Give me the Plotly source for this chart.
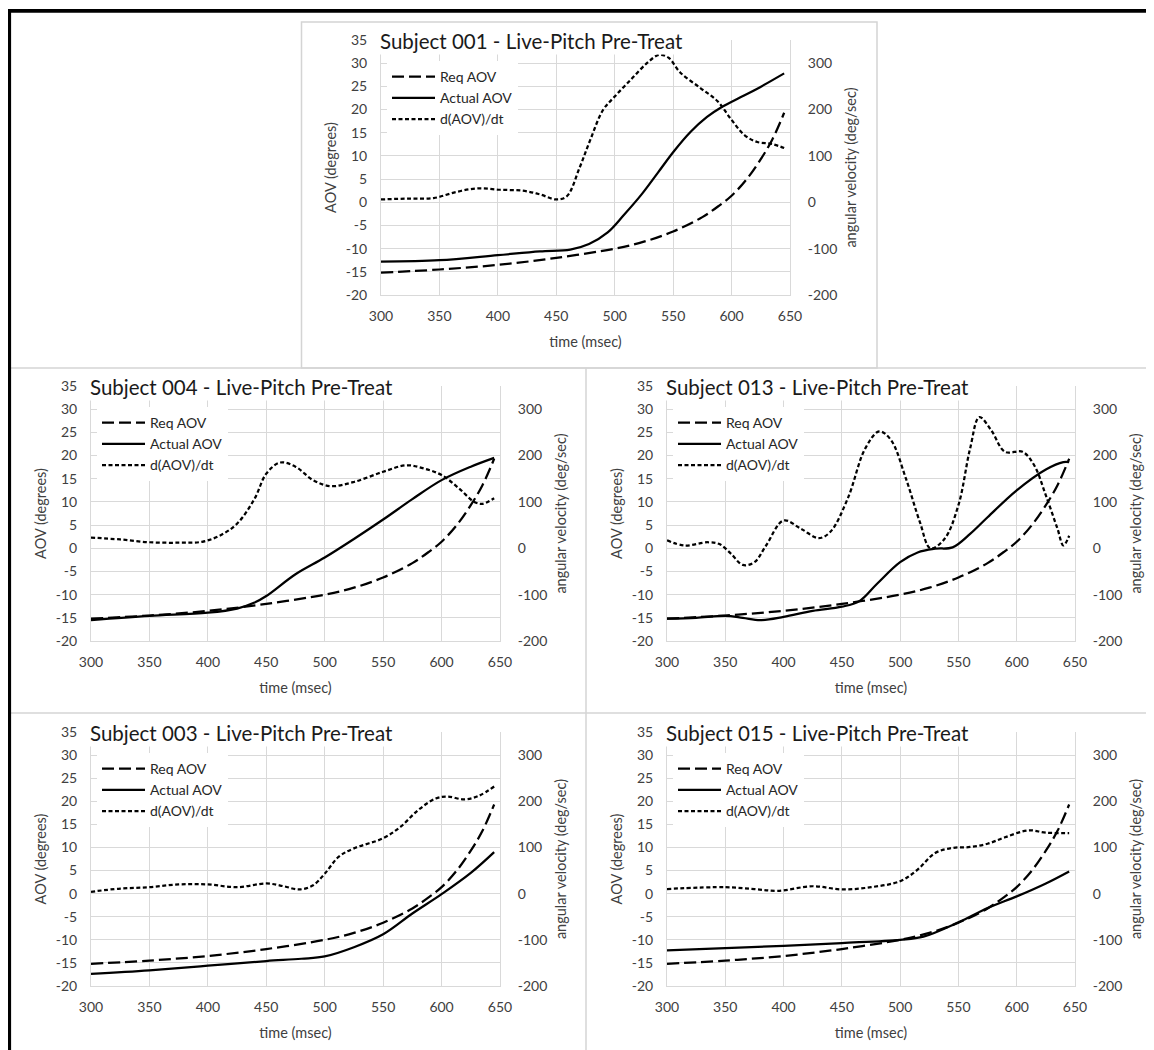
import plotly.graph_objects as go

# the page body adds an 8px margin around the figure, so the figure is
# made 8px smaller than the window on each side and placed accordingly
PAGE_W, PAGE_H = 1154, 1050
OFF = 8
W, H = PAGE_W - OFF, PAGE_H - OFF

# ---------------- data ----------------
time_ticks = [300, 350, 400, 450, 500, 550, 600, 650]
aov_ticks = [-20, -15, -10, -5, 0, 5, 10, 15, 20, 25, 30, 35]
vel_ticks = [-200, -100, 0, 100, 200, 300]

series_names = ["Req AOV", "Actual AOV", "d(AOV)/dt"]

titles = [
    "Subject 001 - Live-Pitch Pre-Treat",
    "Subject 004 - Live-Pitch Pre-Treat",
    "Subject 013 - Live-Pitch Pre-Treat",
    "Subject 003 - Live-Pitch Pre-Treat",
    "Subject 015 - Live-Pitch Pre-Treat",
]

# Required angle of view (same for all subjects), degrees
req_t = [300, 350, 400, 450, 500, 525, 550, 575, 590, 600, 613, 625, 635, 645]
req_v = [-15.2, -14.5, -13.5, -12.0, -10.0, -8.5, -6.3, -3.2, -0.6, 1.4, 5.0, 9.3, 13.6, 19.3]

# Subject 001
s001_act_t = [300, 350, 400, 436, 462, 478, 494, 508, 523, 537, 551, 565, 579, 592, 608, 622, 645]
s001_act_v = [-12.8, -12.5, -11.4, -10.6, -10.2, -9.0, -6.5, -2.7, 1.7, 6.4, 11.1, 15.2, 18.4,
              20.6, 22.7, 24.5, 27.8]
s001_vel_t = [300, 323, 345, 364, 383, 402, 421, 436, 450, 459, 470, 479, 490, 500, 514, 528,
              538, 546, 556, 573, 588, 599, 611, 622, 634, 645]
s001_vel_v = [6, 8, 9, 22, 30, 27, 25, 17, 6, 13, 75, 134, 199, 228, 265, 301,
              318, 312, 280, 247, 218, 181, 145, 130, 126, 117]

# Subject 004
s004_act_t = [300, 350, 400, 425, 440, 450, 475, 500, 525, 550, 575, 600, 625, 645]
s004_act_v = [-15.5, -14.6, -13.9, -13.0, -11.7, -10.3, -5.6, -2.0, 2.0, 6.2, 10.6, 14.7, 17.6, 19.5]
s004_vel_t = [300, 325, 350, 375, 395, 410, 425, 440, 450, 462, 475, 490, 505, 525, 550, 570,
              585, 600, 615, 628, 635, 645]
s004_vel_v = [23, 19, 13, 12, 14, 27, 53, 107, 161, 185, 176, 147, 134, 143, 165, 179,
              172, 158, 129, 100, 96, 108]

# Subject 013
s013_act_t = [300, 325, 350, 365, 380, 400, 425, 450, 465, 480, 500, 515, 530, 545, 560, 575,
              600, 625, 640, 645]
s013_act_v = [-15.2, -15.0, -14.6, -15.0, -15.5, -14.8, -13.5, -12.6, -11.4, -7.7, -3.0, -0.9,
              -0.1, 0.2, 3.1, 6.7, 12.5, 17.0, 18.6, 18.6]
s013_vel_t = [300, 315, 335, 345, 355, 365, 375, 385, 400, 415, 430, 440, 455, 470, 482, 492,
              505, 517, 526, 538, 550, 560, 568, 578, 590, 605, 615, 625, 635, 640, 645]
s013_vel_v = [17, 6, 13, 9, -12, -36, -30, 6, 60, 42, 22, 35, 107, 215, 252, 234,
              150, 56, 0, 20, 93, 215, 283, 255, 208, 208, 179, 114, 42, 6, 27]

# Subject 003
s003_act_t = [300, 350, 400, 450, 480, 500, 525, 550, 575, 600, 625, 645]
s003_act_v = [-17.4, -16.6, -15.6, -14.6, -14.1, -13.6, -11.6, -8.8, -4.3, -0.1, 4.5, 9.0]
s003_vel_t = [300, 325, 350, 375, 400, 425, 450, 465, 478, 490, 500, 512, 525, 550, 565, 580,
              595, 605, 620, 632, 645]
s003_vel_v = [4, 11, 14, 20, 20, 14, 22, 16, 9, 18, 43, 80, 98, 120, 145, 181,
              206, 210, 204, 212, 232]

# Subject 015
s015_act_t = [300, 350, 400, 450, 500, 520, 550, 575, 600, 625, 645]
s015_act_v = [-12.3, -11.8, -11.3, -10.7, -10.0, -9.3, -6.2, -3.1, -0.6, 2.2, 4.8]
s015_vel_t = [300, 350, 375, 395, 425, 450, 475, 500, 515, 530, 545, 560, 575, 590, 610, 625, 645]
s015_vel_v = [10, 14, 10, 6, 16, 9, 14, 27, 52, 88, 99, 101, 108, 122, 137, 132, 131]

subjects = [
    (s001_act_t, s001_act_v, s001_vel_t, s001_vel_v),
    (s004_act_t, s004_act_v, s004_vel_t, s004_vel_v),
    (s013_act_t, s013_act_v, s013_vel_t, s013_vel_v),
    (s003_act_t, s003_act_v, s003_vel_t, s003_vel_v),
    (s015_act_t, s015_act_v, s015_vel_t, s015_vel_v),
]

# ---------------- layout geometry (page pixels) ----------------
# plot area: left, right, top, bottom
boxes = [
    (381, 790, 40, 295),
    (91, 500, 386, 641),
    (667, 1075, 386, 641),
    (91, 500, 732, 986),
    (667, 1075, 732, 986),
]

FONT = "Lato"
TICK_COL = "#404040"
GRID = "#d9d9d9"

def px(x):
    return (x - OFF) / W

def py(y):
    return 1 - (y - OFF) / H

fig = go.Figure()
layout = dict(
    template="none",
    width=W, height=H, autosize=False,
    margin=dict(l=0, r=0, t=0, b=0, pad=0, autoexpand=False),
    paper_bgcolor="white", plot_bgcolor="white",
    font=dict(family=FONT, color=TICK_COL, size=14),
    showlegend=True,
)
annotations = []

styles = [
    dict(dash="12px,5px"),
    dict(dash="solid"),
    dict(dash="4px,2.5px"),
]

for i, (box, subj, title) in enumerate(zip(boxes, subjects, titles)):
    n = i + 1
    xl, xr, yt, yb = box
    xa = "xaxis" if n == 1 else f"xaxis{n}"
    xref = "x" if n == 1 else f"x{n}"
    yl_n = 2 * n - 1
    yr_n = 2 * n
    yla = "yaxis" if yl_n == 1 else f"yaxis{yl_n}"
    ylref = "y" if yl_n == 1 else f"y{yl_n}"
    yra = f"yaxis{yr_n}"
    yrref = f"y{yr_n}"
    leg = "legend" if n == 1 else f"legend{n}"

    act_t, act_v, vel_t, vel_v = subj

    data_sets = [
        (req_t, req_v, ylref),
        (act_t, act_v, ylref),
        (vel_t, vel_v, yrref),
    ]
    for (tx, vy, yref), name, st in zip(data_sets, series_names, styles):
        fig.add_trace(go.Scatter(
            x=tx, y=vy, name=name, mode="lines",
            line=dict(color="black", width=2.25, dash=st["dash"], shape="spline", smoothing=1.0),
            xaxis=xref, yaxis=yref, legend=leg, hoverinfo="skip",
        ))

    layout[xa] = dict(
        domain=[px(xl), px(xr)], anchor=ylref, automargin=False,
        range=[300, 650], tickvals=time_ticks, ticktext=[str(v) for v in time_ticks],
        showgrid=True, gridcolor=GRID, gridwidth=1,
        showline=True, linecolor=GRID, linewidth=1, mirror=False,
        zeroline=False, ticks="", ticklabelstandoff=8,
        tickfont=dict(size=14, color=TICK_COL, family=FONT),
        title=dict(text="time (msec)", font=dict(size=14.5, color=TICK_COL, family=FONT), standoff=14),
        fixedrange=True,
    )
    layout[yla] = dict(
        domain=[py(yb), py(yt)], anchor=xref, automargin=False,
        range=[-20, 35], tickvals=aov_ticks, ticktext=[str(v) for v in aov_ticks],
        showgrid=True, gridcolor=GRID, gridwidth=1,
        showline=True, linecolor=GRID, linewidth=1,
        zeroline=False, ticks="", ticklabelstandoff=10,
        tickfont=dict(size=14, color=TICK_COL, family=FONT),
        title=dict(text="AOV (degrees)", font=dict(size=14.5, color=TICK_COL, family=FONT), standoff=5),
        fixedrange=True,
    )
    layout[yra] = dict(
        overlaying=ylref, side="right", anchor=xref, automargin=False,
        range=[-200, 350], tickvals=vel_ticks, ticktext=[str(v) for v in vel_ticks],
        showgrid=False, showline=True, linecolor=GRID, linewidth=1,
        zeroline=False, ticks="", ticklabelstandoff=14,
        tickfont=dict(size=14, color=TICK_COL, family=FONT),
        title=dict(text="angular velocity (deg/sec)", font=dict(size=14.5, color=TICK_COL, family=FONT),
                   standoff=9),
        fixedrange=True,
    )
    layout[leg] = dict(
        x=px(xl + 6), y=py(yt + 21), xanchor="left", yanchor="top",
        bgcolor="white", borderwidth=0, itemwidth=43,
        font=dict(size=14, color="#262626", family=FONT),
        traceorder="normal", itemclick=False, itemdoubleclick=False,
    )
    annotations.append(dict(
        text=title, xref="paper", yref="paper",
        x=px(xl - 3), y=py(yt + 1), xanchor="left", yanchor="middle",
        showarrow=False, bgcolor="white",
        font=dict(size=20.5, color="#1a1a1a", family=FONT),
    ))

LIGHT = dict(color="#d4d4d4", width=1.5)
shapes = [
    # panel borders
    dict(type="rect", xref="paper", yref="paper", x0=px(301.5), x1=px(877), y0=py(368), y1=py(22),
         line=LIGHT),
    dict(type="line", xref="paper", yref="paper", x0=px(10), x1=1, y0=py(368), y1=py(368), line=LIGHT),
    dict(type="line", xref="paper", yref="paper", x0=px(10), x1=1, y0=py(713), y1=py(713), line=LIGHT),
    dict(type="line", xref="paper", yref="paper", x0=px(586), x1=px(586), y0=0, y1=py(368), line=LIGHT),
    # outer black frame (top and left)
    dict(type="line", xref="paper", yref="paper", x0=px(8), x1=1, y0=py(10.9), y1=py(10.9),
         line=dict(color="black", width=3.7)),
    dict(type="line", xref="paper", yref="paper", x0=px(9.3), x1=px(9.3), y0=0, y1=py(9),
         line=dict(color="black", width=3.6)),
]

layout["annotations"] = annotations
layout["shapes"] = shapes
fig.update_layout(**layout)

fig.write_html("out.html")
